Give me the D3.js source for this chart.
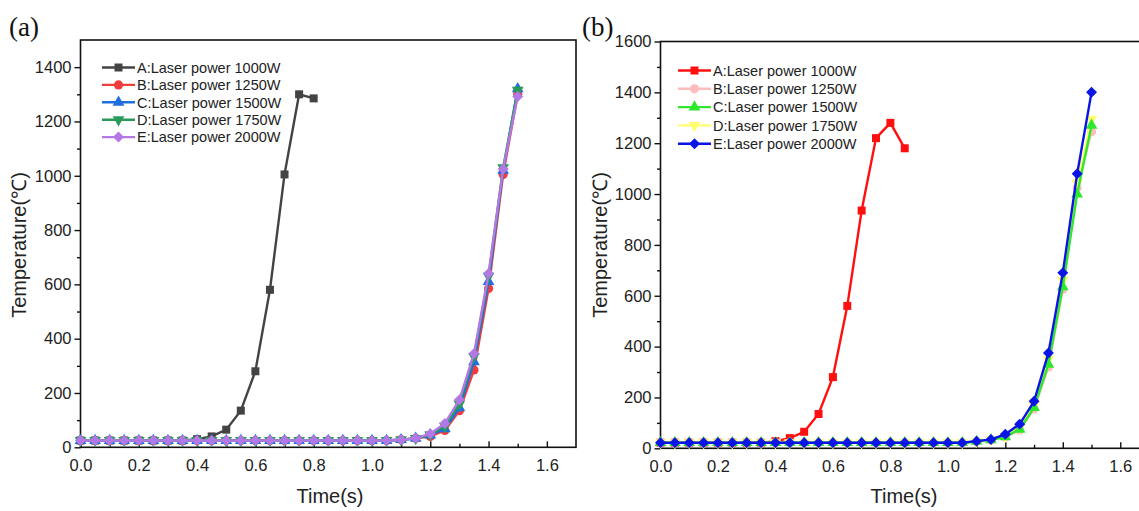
<!DOCTYPE html>
<html>
<head>
<meta charset="utf-8">
<script src="https://cdn.jsdelivr.net/npm/d3@7"></script>
<style>
  body { margin: 0; background: #fff; }
  svg { display: block; font-family: "Liberation Sans", Arial, sans-serif; }
</style>
</head>
<body>
<svg width="1139" height="511"></svg>
<script>
// time points (s)
const timeLong = [0, 0.05, 0.1, 0.15, 0.2, 0.25, 0.3, 0.35, 0.4, 0.45, 0.5, 0.55, 0.6, 0.65, 0.7, 0.75,
                  0.8, 0.85, 0.9, 0.95, 1.0, 1.05, 1.1, 1.15, 1.2, 1.25, 1.3, 1.35, 1.4, 1.45, 1.5];
const timeA_a = [0, 0.05, 0.1, 0.15, 0.2, 0.25, 0.3, 0.35, 0.4, 0.45, 0.5, 0.55, 0.6, 0.65, 0.7, 0.75, 0.8];
const timeA_b = [0, 0.05, 0.1, 0.15, 0.2, 0.25, 0.3, 0.35, 0.4, 0.45, 0.5, 0.55, 0.6, 0.65, 0.7, 0.75, 0.8, 0.85];

const seriesNames = ["A:Laser power 1000W", "B:Laser power 1250W", "C:Laser power 1500W",
                     "D:Laser power 1750W", "E:Laser power 2000W"];

// panel (a) temperatures
const a_A = [25, 25, 25, 25, 25, 25, 25, 25, 30, 40, 65, 135, 280, 580, 1005, 1300, 1285];
const a_B = [25, 25, 25, 25, 25, 25, 25, 25, 25, 25, 25, 25, 25, 25, 25, 25, 25, 25, 25, 25, 25, 25,
             28, 33, 40, 62, 135, 285, 585, 1005, 1300];
const a_C = [25, 25, 25, 25, 25, 25, 25, 25, 25, 25, 25, 25, 25, 25, 25, 25, 25, 25, 25, 25, 25, 25,
             28, 33, 45, 68, 145, 315, 610, 1020, 1320];
const a_D = [25, 25, 25, 25, 25, 25, 25, 25, 25, 25, 25, 25, 25, 25, 25, 25, 25, 25, 25, 25, 25, 25,
             28, 33, 47, 78, 160, 335, 630, 1030, 1315];
const a_E = [25, 25, 25, 25, 25, 25, 25, 25, 25, 25, 25, 25, 25, 25, 25, 25, 25, 25, 25, 25, 25, 25,
             28, 33, 50, 88, 175, 345, 640, 1025, 1292];

// panel (b) temperatures
const b_A = [22, 22, 22, 22, 22, 22, 22, 22, 28, 40, 65, 135, 280, 560, 935, 1220, 1280, 1180];
const b_B = [22, 22, 22, 22, 22, 22, 22, 22, 22, 22, 22, 22, 22, 22, 22, 22, 22, 22, 22, 22, 22, 22,
             27, 33, 44, 72, 155, 320, 625, 1025, 1245];
const b_C = [22, 22, 22, 22, 22, 22, 22, 22, 22, 22, 22, 22, 22, 22, 22, 22, 22, 22, 22, 22, 22, 22,
             27, 33, 45, 75, 160, 330, 635, 1000, 1270];
const b_D = [22, 22, 22, 22, 22, 22, 22, 22, 22, 22, 22, 22, 22, 22, 22, 22, 22, 22, 22, 22, 22, 22,
             27, 34, 48, 82, 170, 350, 660, 1045, 1295];
const b_E = [22, 22, 22, 22, 22, 22, 22, 22, 22, 22, 22, 22, 22, 22, 22, 22, 22, 22, 22, 22, 22, 22,
             28, 35, 55, 95, 185, 375, 690, 1080, 1400];

const xTicks = [0, 0.2, 0.4, 0.6, 0.8, 1.0, 1.2, 1.4, 1.6];
const yTicksA = [0, 200, 400, 600, 800, 1000, 1200, 1400];
const yTicksB = [0, 200, 400, 600, 800, 1000, 1200, 1400, 1600];

const svg = d3.select("svg");

const symbols = {
    square: d3.symbol(d3.symbolSquare, 64),
    circle: d3.symbol(d3.symbolCircle, 66),
    up: d3.symbol(d3.symbolTriangle, 60),
    down: d3.symbol(d3.symbolTriangle, 60),
    diamond: d3.symbol(d3.symbolSquare, 60)
};
const symbolRotate = { square: 0, circle: 0, up: 0, down: 180, diamond: 45 };
const shapes = ["square", "circle", "up", "down", "diamond"];

const drawPanel = (cfg) => {
    const g = svg.append("g");
    const x = d3.scaleLinear().domain([0, 1.7]).range([cfg.left, cfg.right]);
    const y = d3.scaleLinear().domain([0, cfg.yMax]).range([cfg.bottom, cfg.top]);

    // frame
    g.append("rect")
        .attr("x", cfg.left).attr("y", cfg.top)
        .attr("width", cfg.right - cfg.left).attr("height", cfg.bottom - cfg.top)
        .attr("fill", "none").attr("stroke", "#111").attr("stroke-width", 1.6);

    // x axis, ticks pointing in
    g.append("g")
        .attr("transform", `translate(0,${cfg.bottom})`)
        .call(d3.axisBottom(x).tickValues(xTicks).tickFormat(d3.format(".1f"))
            .tickSize(-6).tickSizeOuter(0).tickPadding(12))
        .select(".domain").remove();
    g.append("g")
        .attr("transform", `translate(0,${cfg.bottom})`)
        .call(d3.axisBottom(x).tickValues(d3.range(0.1, 1.7, 0.2)).tickFormat("").tickSize(-3.5).tickSizeOuter(0))
        .select(".domain").remove();

    // y axis, ticks pointing out
    g.append("g")
        .attr("transform", `translate(${cfg.left},0)`)
        .call(d3.axisLeft(y).tickValues(cfg.yTicks).tickFormat(d3.format("d"))
            .tickSize(6).tickSizeOuter(0).tickPadding(3))
        .select(".domain").remove();
    g.append("g")
        .attr("transform", `translate(${cfg.left},0)`)
        .call(d3.axisLeft(y).tickValues(d3.range(100, cfg.yMax, 200)).tickFormat("").tickSize(3.5).tickSizeOuter(0))
        .select(".domain").remove();

    g.selectAll(".tick line").attr("stroke", "#111").attr("stroke-width", 1.4);
    g.selectAll(".tick text").attr("font-size", 16.5).attr("fill", "#222")
        .attr("font-family", "'Liberation Sans', Arial, sans-serif");

    // axis titles
    g.append("text")
        .attr("x", cfg.titleX)
        .attr("y", 503)
        .attr("text-anchor", "middle").attr("font-size", 20).attr("fill", "#222")
        .text("Time(s)");
    g.append("text")
        .attr("transform", `translate(${cfg.yTitleX},${cfg.yTitleY}) rotate(-90)`)
        .attr("text-anchor", "middle").attr("font-size", 20).attr("fill", "#222")
        .text("Temperature(℃)");

    // panel letter
    g.append("text")
        .attr("x", cfg.letterX).attr("y", 36)
        .attr("font-family", "'Liberation Serif', 'Times New Roman', serif")
        .attr("font-size", 27).attr("fill", "#111")
        .text(cfg.letter);

    const line = d3.line().x((d) => x(d[0])).y((d) => y(d[1]));

    cfg.order.forEach((i) => {
        const s = cfg.series[i];
        const pts = s.time.map((t, k) => [t, s.values[k]]);
        g.append("path")
            .datum(pts)
            .attr("d", line)
            .attr("fill", "none").attr("stroke", cfg.colors[i]).attr("stroke-width", 2.4);
        g.selectAll(null)
            .data(pts)
            .enter().append("path")
                .attr("d", symbols[shapes[i]])
                .attr("transform", (d) => `translate(${x(d[0])},${y(d[1])}) rotate(${symbolRotate[shapes[i]]})`)
                .attr("fill", cfg.colors[i]);
    });

    // legend
    seriesNames.forEach((name, i) => {
        const ly = cfg.legendY + i * cfg.legendStep;
        g.append("line")
            .attr("x1", cfg.legendX).attr("x2", cfg.legendX + 33)
            .attr("y1", ly).attr("y2", ly)
            .attr("stroke", cfg.colors[i]).attr("stroke-width", 2.4);
        g.append("path")
            .attr("d", symbols[shapes[i]])
            .attr("transform", `translate(${cfg.legendX + 16.5},${ly}) rotate(${symbolRotate[shapes[i]]})`)
            .attr("fill", cfg.colors[i]);
        g.append("text")
            .attr("x", cfg.legendX + 35).attr("y", ly)
            .attr("dy", "0.36em")
            .attr("font-size", 14.5).attr("fill", "#222")
            .text(name);
    });
};

drawPanel({
    letter: "(a)", letterX: 9,
    left: 80.5, right: 576, top: 40, bottom: 447.3, yMax: 1500, yTicks: yTicksA,
    titleX: 330, yTitleX: 26, yTitleY: 245,
    legendX: 102, legendY: 67.5, legendStep: 17.4,
    colors: ["#434343", "#f03c3c", "#1f6fe0", "#2a9a5a", "#b278e6"],
    series: [
        { time: timeA_a, values: a_A },
        { time: timeLong, values: a_B },
        { time: timeLong, values: a_C },
        { time: timeLong, values: a_D },
        { time: timeLong, values: a_E }
    ],
    order: [0, 1, 2, 3, 4]
});

drawPanel({
    letter: "(b)", letterX: 582,
    left: 660.5, right: 1149, top: 41.5, bottom: 448.3, yMax: 1600, yTicks: yTicksB,
    titleX: 904, yTitleX: 607, yTitleY: 245,
    legendX: 678, legendY: 70.5, legendStep: 18.3,
    colors: ["#ff1010", "#ffbcbc", "#2ee82e", "#ffff70", "#0a14e6"],
    series: [
        { time: timeA_b, values: b_A },
        { time: timeLong, values: b_B },
        { time: timeLong, values: b_C },
        { time: timeLong, values: b_D },
        { time: timeLong, values: b_E }
    ],
    order: [0, 1, 3, 2, 4]
});
</script>
</body>
</html>
